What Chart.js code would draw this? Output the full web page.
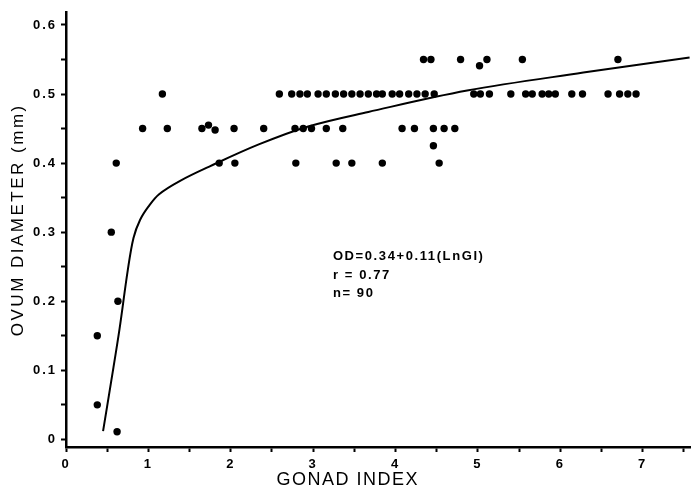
<!DOCTYPE html>
<html>
<head>
<meta charset="utf-8">
<script src="https://cdn.jsdelivr.net/npm/chart.js@4.4.1/dist/chart.umd.min.js"></script>
<style>
  html, body { margin: 0; padding: 0; background: #fff; }
  #wrap { width: 694px; height: 489px; }
</style>
</head>
<body>
<div id="wrap"><canvas id="c" width="694" height="489"></canvas></div>
<script>
// ---- Data ----
const gonadIndex = [
  0.38, 0.38, 0.55, 0.63, 0.62, 0.61,
  1.86, 2.05, 2.79, 3.28, 3.47, 3.84, 4.53,
  4.46,
  0.93, 1.23, 1.65, 1.73, 1.81, 2.04, 2.40, 2.78, 2.88, 2.98, 3.16, 3.36, 4.08, 4.23, 4.46, 4.59, 4.72,
  1.17, 2.59, 2.74, 2.84, 2.93, 3.06, 3.16, 3.27, 3.37, 3.47, 3.57, 3.67, 3.77, 3.84, 3.96, 4.05, 4.16, 4.26, 4.36, 4.47,
  4.95, 5.03, 5.14, 5.40, 5.58, 5.66, 5.78, 5.86, 5.94, 6.14, 6.27, 6.58, 6.72, 6.82, 6.92,
  4.34, 4.43, 4.79, 5.02, 5.11, 5.54, 6.70
];
const ovumDiameter = [
  0.15, 0.05, 0.30, 0.20, 0.011, 0.40,
  0.40, 0.40, 0.40, 0.40, 0.40, 0.40, 0.40,
  0.425,
  0.45, 0.45, 0.45, 0.455, 0.448, 0.45, 0.45, 0.45, 0.45, 0.45, 0.45, 0.45, 0.45, 0.45, 0.45, 0.45, 0.45,
  0.50, 0.50, 0.50, 0.50, 0.50, 0.50, 0.50, 0.50, 0.50, 0.50, 0.50, 0.50, 0.50, 0.50, 0.50, 0.50, 0.50, 0.50, 0.50, 0.50,
  0.50, 0.50, 0.50, 0.50, 0.50, 0.50, 0.50, 0.50, 0.50, 0.50, 0.50, 0.50, 0.50, 0.50, 0.50,
  0.55, 0.55, 0.55, 0.541, 0.55, 0.55, 0.55
];
// fitted curve as drawn in the reference
const curveX = [0.45, 0.55, 0.65, 0.75, 0.82, 0.90, 1.00, 1.13, 1.38, 1.74, 2.34, 2.94, 3.67, 4.87, 6.28, 7.57];
const curveY = [0.012, 0.085, 0.16, 0.245, 0.292, 0.318, 0.337, 0.355, 0.374, 0.395, 0.427, 0.453, 0.474, 0.505, 0.531, 0.553];

const xTickValues = [0, 0.5, 1, 1.5, 2, 2.5, 3, 3.5, 4, 4.5, 5, 5.5, 6, 6.5, 7, 7.5];
const xTickLabels = ['0', '', '1', '', '2', '', '3', '', '4', '', '5', '', '6', '', '7', ''];
const yTickValues = [0, 0.05, 0.1, 0.15, 0.2, 0.25, 0.3, 0.35, 0.4, 0.45, 0.5, 0.55, 0.6];
const yTickLabels = ['0', '', '0.1', '', '0.2', '', '0.3', '', '0.4', '', '0.5', '', '0.6'];

const xTitle = 'GONAD INDEX';
const yTitle = 'OVUM DIAMETER (mm)';
const noteLines = ['OD=0.34+0.11(LnGI)', 'r = 0.77', 'n= 90'];

const points = gonadIndex.map((x, i) => ({ x: x, y: ovumDiameter[i] }));
const curve = curveX.map((x, i) => ({ x: x, y: curveY[i] }));

const FONT = '"Liberation Sans", Arial, Helvetica, sans-serif';

const spacingPlugin = {
  id: 'spacing',
  beforeLayout(chart) { chart.ctx.letterSpacing = '2px'; },
  beforeDraw(chart) { chart.ctx.letterSpacing = '2px'; }
};

const textPlugin = {
  id: 'texts',
  afterDraw(chart) {
    const ctx = chart.ctx;
    const xs = chart.scales.x, ys = chart.scales.y;
    ctx.save();
    ctx.fillStyle = '#000';
    // annotation
    ctx.letterSpacing = '1.6px';
    ctx.font = 'bold 13px ' + FONT;
    ctx.textAlign = 'left';
    ctx.textBaseline = 'middle';
    const nx = xs.getPixelForValue(3.24);
    const ny = [0.265, 0.238, 0.211];
    noteLines.forEach((t, i) => ctx.fillText(t, nx, ys.getPixelForValue(ny[i])));
    // x title
    ctx.letterSpacing = '1.5px';
    ctx.font = '18px ' + FONT;
    ctx.textAlign = 'center';
    ctx.textBaseline = 'middle';
    ctx.fillText(xTitle, xs.getPixelForValue(3.42), 480);
    // y title
    ctx.translate(18, ys.getPixelForValue(0.318));
    ctx.rotate(-Math.PI / 2);
    ctx.letterSpacing = '2.5px';
    ctx.font = '17px ' + FONT;
    ctx.fillText(yTitle, 0, 0);
    ctx.restore();
  }
};

new Chart(document.getElementById('c'), {
  type: 'scatter',
  data: {
    datasets: [
      {
        label: 'fit',
        type: 'line',
        data: curve,
        borderColor: '#000',
        borderWidth: 2,
        pointRadius: 0,
        fill: false,
        tension: 0.35,
        order: 2
      },
      {
        label: 'samples',
        data: points,
        backgroundColor: '#000',
        borderColor: '#000',
        pointRadius: 3.7,
        borderWidth: 0,
        order: 1
      }
    ]
  },
  options: {
    responsive: false,
    animation: false,
    layout: { padding: { top: 10, right: 0, left: 0, bottom: 0 } },
    plugins: { legend: { display: false }, tooltip: { enabled: false } },
    scales: {
      x: {
        type: 'linear',
        min: 0,
        max: 7.575,
        afterBuildTicks(scale) { scale.ticks = xTickValues.map(v => ({ value: v })); },
        afterFit(scale) { scale.height = 42; },
        ticks: {
          color: '#000',
          font: { family: FONT, size: 13, weight: 'bold' },
          padding: 5,
          maxRotation: 0,
          autoSkip: false,
          callback: (v, i) => xTickLabels[i]
        },
        grid: { drawOnChartArea: false, tickLength: 5, tickWidth: 2, tickColor: '#000' },
        border: { color: '#000', width: 2.5 }
      },
      y: {
        type: 'linear',
        min: -0.011,
        max: 0.619,
        afterBuildTicks(scale) { scale.ticks = yTickValues.map(v => ({ value: v })); },
        afterFit(scale) { scale.width = 66; },
        ticks: {
          color: '#000',
          font: { family: FONT, size: 13, weight: 'bold' },
          padding: 4,
          autoSkip: false,
          callback: (v, i) => yTickLabels[i]
        },
        grid: { drawOnChartArea: false, tickLength: 5, tickWidth: 2, tickColor: '#000' },
        border: { color: '#000', width: 2.5 }
      }
    }
  },
  plugins: [spacingPlugin, textPlugin]
});
</script>
</body>
</html>
